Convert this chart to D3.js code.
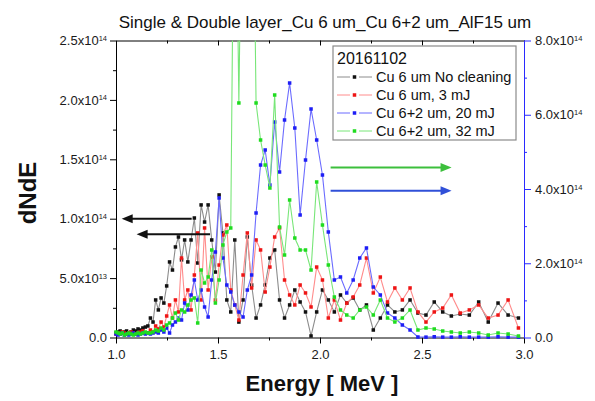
<!DOCTYPE html>
<html>
<head>
<meta charset="utf-8">
<script src="https://cdn.jsdelivr.net/npm/d3@7"></script>
<style>
  body { margin: 0; background: #fff; }
  svg { display: block; font-family: "Liberation Sans", Arial, Helvetica, sans-serif; }
</style>
</head>
<body>
<div id="chart"></div>
<script>
// energy bins (MeV), shared by all four spectra
const energy = [1.0000,1.0101,1.0203,1.0307,1.0412,1.0519,1.0628,1.0739,1.0851,1.0965,
  1.1080,1.1198,1.1317,1.1439,1.1562,1.1687,1.1815,1.1944,1.2076,1.2210,
  1.2346,1.2484,1.2625,1.2768,1.2913,1.3061,1.3212,1.3365,1.3521,1.3679,
  1.3841,1.4005,1.4172,1.4342,1.4516,1.4692,1.4872,1.5055,1.5242,1.5432,
  1.5625,1.5822,1.6023,1.6228,1.6437,1.6649,1.6866,1.7087,1.7313,1.7543,
  1.7778,1.8017,1.8262,1.8511,1.8765,1.9025,1.9290,1.9561,1.9837,2.0120,
  2.0408,2.0703,2.1004,2.1312,2.1626,2.1948,2.2277,2.2613,2.2957,2.3309,
  2.3669,2.4037,2.4414,2.4800,2.5195,2.5600,2.6015,2.6439,2.6874,2.7320,
  2.7778,2.8247,2.8727,2.9221,2.9727];

// dN/dE in units of 1e13 (left axis)
const noCleaning = [0.38,0.46,0.55,0.38,0.46,0.55,0.38,0.46,0.63,0.55,
  0.72,0.63,0.80,0.88,0.97,1.64,1.30,3.16,2.32,3.33,
  2.90,4.34,6.36,5.68,7.62,8.46,6.53,8.21,6.36,8.21,
  10.06,6.27,11.16,9.72,11.16,8.21,5.51,12.0,8.80,3.16,
  2.15,8.21,1.30,3.16,8.46,4.42,1.64,2.74,4.42,6.69,
  7.37,3.16,1.64,2.74,4.00,2.99,2.15,0.13,2.15,4.00,
  3.16,2.15,3.58,2.90,3.33,2.32,2.74,0.63,1.64,2.74,
  2.15,2.32,3.16,2.06,1.89,2.99,2.15,1.81,1.98,1.89,
  2.99,1.30,2.90,1.89,1.64];

const cu6_3mJ = [0.29,0.38,0.29,0.46,0.38,0.29,0.38,0.46,0.38,0.29,
  0.38,0.46,0.55,0.38,0.38,0.63,0.46,0.97,0.72,1.30,
  0.88,1.81,2.74,1.64,3.16,2.15,6.69,3.16,4.00,2.32,
  5.26,8.80,3.16,9.22,4.00,6.78,3.16,6.10,8.63,9.47,
  4.00,2.74,1.47,5.26,8.80,4.17,8.21,7.37,3.83,5.93,
  8.46,9.22,4.84,3.58,2.74,4.42,3.75,2.57,5.93,4.84,
  1.64,3.16,1.47,2.90,3.41,4.42,6.69,3.75,5.09,2.99,
  4.17,3.16,4.17,2.15,1.30,2.15,2.48,3.58,2.06,2.32,
  2.74,1.64,1.89,3.16,0.80];

// dN/dE in units of 1e13 (right axis)
const cu62_20mJ = [0.94,0.67,0.94,1.21,0.67,0.94,0.67,0.94,1.21,0.94,
  0.67,0.94,1.21,0.94,1.21,0.94,1.21,1.48,1.21,2.02,
  1.48,2.56,1.21,3.37,4.18,5.25,4.71,9.29,7.41,11.45,
  15.49,10.10,12.79,8.22,5.52,15.49,23.03,37.58,21.41,14.14,
  12.26,8.75,6.87,5.52,12.79,16.84,33.54,46.46,50.51,41.08,
  58.05,44.58,58.59,68.55,56.43,33.0,47.81,61.55,53.20,43.77,
  28.42,15.49,16.30,11.99,15.49,21.41,24.11,13.60,11.45,6.60,
  5.25,3.37,2.02,0.13,0.1,0.2,0.1,0.1,0.2,0.1,
  0.1,0.1,0.2,0.1,0.1];

const cu62_32mJ = [1.48,1.21,0.94,1.21,0.67,0.94,1.21,0.94,0.67,0.94,
  1.21,0.94,1.21,1.48,1.21,1.21,1.48,2.02,1.75,2.56,
  2.02,3.37,3.91,5.25,6.60,4.71,7.41,6.87,8.75,10.10,
  10.64,3.91,18.18,14.68,16.30,23.57,9.29,15.49,24.92,28.42,
  29.50,150,63.17,150,180,160,63.17,53.20,46.46,40.27,
  65.32,29.76,22.22,37.04,26.80,23.57,23.57,18.18,41.89,30.30,
  19.53,10.91,7.41,6.06,5.25,7.41,8.22,6.06,10.10,5.25,
  4.18,5.25,7.41,2.02,2.56,2.29,1.75,1.48,1.21,1.48,
  1.21,0.67,1.21,0.94,0.40];

const seriesNames = ["Cu 6 um No cleaning", "Cu 6 um, 3 mJ", "Cu 6+2 um, 20 mJ", "Cu 6+2 um, 32 mJ"];
const xTicks = [1.0, 1.5, 2.0, 2.5, 3.0];
const xMinor = [1.25, 1.75, 2.25, 2.75];
const leftTicks = [0, 5e13, 1e14, 1.5e14, 2e14, 2.5e14];
const leftMinor = [2.5e13, 7.5e13, 1.25e14, 1.75e14, 2.25e14];
const rightTicks = [0, 2e14, 4e14, 6e14, 8e14];
const rightMinor = [1e14, 3e14, 5e14, 7e14];

const width = 595;
const height = 401;
const margin = { top: 40.5, right: 71, bottom: 63.5, left: 116 };
const blue = "#2a2aff";

const svg = d3.select("#chart")
  .append("svg")
  .attr("width", width)
  .attr("height", height);

const x = d3.scaleLinear()
  .domain([1, 3])
  .range([margin.left, width - margin.right]);

const yL = d3.scaleLinear()
  .domain([0, 2.5e14])
  .range([height - margin.bottom, margin.top]);

const yR = d3.scaleLinear()
  .domain([0, 8e14])
  .range([height - margin.bottom, margin.top]);

// a x10^n label with the exponent raised
function sciText(t, v) {
  t.text(null);
  if (v === 0) { t.text("0.0"); return; }
  const e = Math.floor(Math.log10(v) + 1e-9);
  const m = v / Math.pow(10, e);
  t.append("tspan").text(m.toFixed(1) + "x10");
  t.append("tspan").attr("font-size", 7.5).attr("dy", "-0.55em").text(e);
}

function styleAxis(g, color) {
  g.attr("font-family", null).attr("font-size", 13);
  g.selectAll("line, path").attr("stroke", color).attr("stroke-width", 1);
  g.selectAll("text").attr("fill", "#1a1a1a");
}

// bottom
svg.append("g")
  .attr("transform", `translate(0,${yL(0)})`)
  .call(d3.axisBottom(x).tickValues(xTicks).tickSize(6).tickSizeOuter(0).tickPadding(6).tickFormat(d3.format(".1f")))
  .call(g => styleAxis(g, "#000"));
svg.append("g")
  .attr("transform", `translate(0,${yL(0)})`)
  .call(d3.axisBottom(x).tickValues(xMinor).tickSize(3).tickFormat(""))
  .call(g => { g.select(".domain").remove(); styleAxis(g, "#000"); });

// top
svg.append("g")
  .attr("transform", `translate(0,${yL.range()[1]})`)
  .call(d3.axisTop(x).tickValues(xTicks).tickSize(-5).tickSizeOuter(0).tickFormat(""))
  .call(g => styleAxis(g, "#000"));
svg.append("g")
  .attr("transform", `translate(0,${yL.range()[1]})`)
  .call(d3.axisTop(x).tickValues(xMinor).tickSize(-3).tickFormat(""))
  .call(g => { g.select(".domain").remove(); styleAxis(g, "#000"); });

// left
svg.append("g")
  .attr("transform", `translate(${x(1)},0)`)
  .call(d3.axisLeft(yL).tickValues(leftTicks).tickSize(6).tickSizeOuter(0).tickPadding(3))
  .call(g => {
    styleAxis(g, "#000");
    g.selectAll(".tick text").each(function (d) { sciText(d3.select(this), d); });
  });
svg.append("g")
  .attr("transform", `translate(${x(1)},0)`)
  .call(d3.axisLeft(yL).tickValues(leftMinor).tickSize(3).tickFormat(""))
  .call(g => { g.select(".domain").remove(); styleAxis(g, "#000"); });

// right
svg.append("g")
  .attr("transform", `translate(${x(3)},0)`)
  .call(d3.axisRight(yR).tickValues(rightTicks).tickSize(7).tickSizeOuter(0).tickPadding(4))
  .call(g => {
    styleAxis(g, blue);
    g.selectAll(".tick text").each(function (d) { sciText(d3.select(this), d); });
  });
svg.append("g")
  .attr("transform", `translate(${x(3)},0)`)
  .call(d3.axisRight(yR).tickValues(rightMinor).tickSize(3).tickFormat(""))
  .call(g => { g.select(".domain").remove(); styleAxis(g, blue); });

// titles
svg.append("text")
  .attr("x", 325).attr("y", 28)
  .attr("text-anchor", "middle")
  .attr("font-size", 17)
  .attr("fill", "#111")
  .text("Single & Double layer_Cu 6 um_Cu 6+2 um_AlF15 um");

svg.append("text")
  .attr("x", (x(1) + x(3)) / 2 + 2).attr("y", 391)
  .attr("text-anchor", "middle")
  .attr("font-size", 22).attr("font-weight", "bold")
  .attr("fill", "#111")
  .text("Energy [ MeV ]");

svg.append("text")
  .attr("transform", `translate(36,${(yL(0) + yL(2.5e14)) / 2 + 4}) rotate(-90)`)
  .attr("text-anchor", "middle")
  .attr("font-size", 24).attr("font-weight", "bold")
  .attr("fill", "#111")
  .text("dNdE");

// spectra
svg.append("clipPath").attr("id", "plot-clip")
  .append("rect")
  .attr("x", x(1) - 4).attr("y", yL.range()[1])
  .attr("width", x(3) - x(1) + 8).attr("height", yL(0) - yL.range()[1] + 6);

const series = [
  { values: noCleaning, y: yL, line: "#8c8c8c", mark: "#111111" },
  { values: cu6_3mJ, y: yL, line: "#ff8c8c", mark: "#ee1515" },
  { values: cu62_20mJ, y: yR, line: "#6b6bff", mark: "#1e1ef5" },
  { values: cu62_32mJ, y: yR, line: "#78e678", mark: "#1fdc1f" },
];

const plot = svg.append("g").attr("clip-path", "url(#plot-clip)");

series.forEach(s => {
  const pts = energy.map((e, i) => [e, s.values[i] * 1e13]);
  const g = plot.append("g");
  g.append("path")
    .datum(pts)
    .attr("fill", "none")
    .attr("stroke", s.line)
    .attr("stroke-width", 1.1)
    .attr("d", d3.line().x(d => x(d[0])).y(d => s.y(d[1])));
  g.selectAll("rect")
    .data(pts)
    .join("rect")
    .attr("x", d => x(d[0]) - 1.75)
    .attr("y", d => s.y(d[1]) - 1.75)
    .attr("width", 3.5)
    .attr("height", 3.5)
    .attr("fill", s.mark);
});

// arrows showing which axis each group belongs to
const arrows = [
  { from: 1.371, to: 1.028, v: 1.0e14, y: yL, color: "#111" },
  { from: 1.461, to: 1.101, v: 0.87e14, y: yL, color: "#111" },
  { from: 2.052, to: 2.645, v: 4.58e14, y: yR, color: "#3cbf3c" },
  { from: 2.052, to: 2.645, v: 3.95e14, y: yR, color: "#3050d8" },
];

arrows.forEach(a => {
  const x1 = x(a.from), x2 = x(a.to), yy = a.y(a.v);
  const dir = Math.sign(x2 - x1);
  svg.append("line")
    .attr("x1", x1).attr("y1", yy)
    .attr("x2", x2 - dir * 8).attr("y2", yy)
    .attr("stroke", a.color).attr("stroke-width", 2);
  svg.append("path")
    .attr("d", `M${x2},${yy}L${x2 - dir * 11},${yy - 4.5}L${x2 - dir * 11},${yy + 4.5}Z`)
    .attr("fill", a.color);
});

// legend
const legend = svg.append("g").attr("transform", "translate(333,46)");
legend.append("rect")
  .attr("width", 183).attr("height", 94)
  .attr("fill", "#fff").attr("stroke", "#8a8a8a").attr("stroke-width", 1.2);
legend.append("text")
  .attr("x", 4).attr("y", 18)
  .attr("font-size", 16).attr("fill", "#111")
  .text("20161102");
series.forEach((s, i) => {
  const row = legend.append("g").attr("transform", `translate(0,${31 + i * 18})`);
  row.append("line").attr("x1", 4).attr("x2", 17).attr("stroke", s.line);
  row.append("line").attr("x1", 26).attr("x2", 39).attr("stroke", s.line);
  row.append("rect").attr("x", 19.75).attr("y", -1.75).attr("width", 3.5).attr("height", 3.5).attr("fill", s.mark);
  row.append("text")
    .attr("x", 43).attr("dy", "0.35em")
    .attr("font-size", 14.5).attr("fill", "#111")
    .text(seriesNames[i]);
});
</script>
</body>
</html>
